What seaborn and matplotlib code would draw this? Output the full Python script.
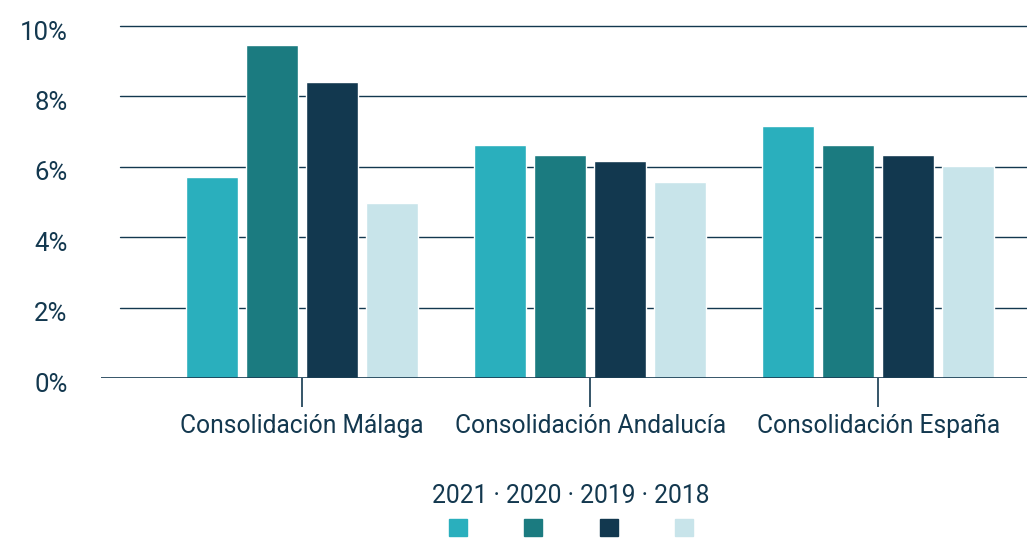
import pandas as pd
import numpy as np
import matplotlib.pyplot as plt
import matplotlib.transforms as mtransforms
import seaborn as sns
from matplotlib.ticker import FuncFormatter

# values (percent)
categories = ["Consolidación Málaga", "Consolidación Andalucía", "Consolidación España"]
years = ["2021", "2020", "2019", "2018"]
v2021 = [5.71, 6.62, 7.17]
v2020 = [9.46, 6.33, 6.62]
v2019 = [8.41, 6.16, 6.33]
v2018 = [4.97, 5.57, 6.02]
colors = ["#2aafbd", "#1b7b80", "#12384f", "#c8e4ea"]
navy = "#13384f"


def main():
    df = pd.DataFrame({
        "cat": categories * 4,
        "year": [y for y in years for _ in categories],
        "value": v2021 + v2020 + v2019 + v2018,
    })

    sns.set_style("white")
    plt.rcParams["font.family"] = ["Roboto", "DejaVu Sans"]

    fig = plt.figure(figsize=(10.27, 5.40), dpi=100)
    ax = fig.add_axes([101 / 1027, 1 - 378 / 540, 926 / 1027, 352 / 540])

    sns.barplot(data=df, x="cat", y="value", hue="year", hue_order=years,
                palette=colors, width=0.833, gap=0.133, saturation=1,
                legend=False, ax=ax, zorder=3)

    for v in [2, 4, 6, 8, 10]:
        ax.axhline(v, xmin=0.021, xmax=1, color=navy, lw=1, zorder=1, clip_on=False)
    ax.axhline(0, color=navy, lw=1.2, zorder=4)

    ax.set_xlim(-0.698, 2.517)
    ax.set_ylim(0, 10)
    ax.set_yticks([0, 2, 4, 6, 8, 10])
    ax.yaxis.set_major_formatter(FuncFormatter(lambda v, p: f"{v:.0f}%"))
    ax.tick_params(axis="y", length=0, pad=24, labelsize=18.5, labelcolor=navy)
    ax.tick_params(axis="x", length=21, width=1.2, color=navy, pad=5,
                   labelsize=17.7, labelcolor=navy, direction="out", bottom=True)
    # y labels sit a little below their gridlines in the reference
    shift = mtransforms.ScaledTranslation(0, -4 / 100, fig.dpi_scale_trans)
    for lab in ax.get_yticklabels():
        lab.set_transform(lab.get_transform() + shift)
    ax.set_xlabel("")
    ax.set_ylabel("")
    for s in ax.spines.values():
        s.set_visible(False)

    handles = [plt.Rectangle((0, 0), 1, 1, color=c) for c in colors]
    leg = fig.legend(handles, ["", "", "", ""], ncol=4, loc="center",
                     bbox_to_anchor=(571 / 1027, 1 - 512 / 540), frameon=False,
                     title=" \u00b7 ".join(years), title_fontsize=17.7,
                     handlelength=0.81, handleheight=0.81, handletextpad=0,
                     columnspacing=2.57, fontsize=16)
    leg.get_title().set_color(navy)

    fig.savefig("out.png", dpi=100)


if __name__ == "__main__":
    main()
